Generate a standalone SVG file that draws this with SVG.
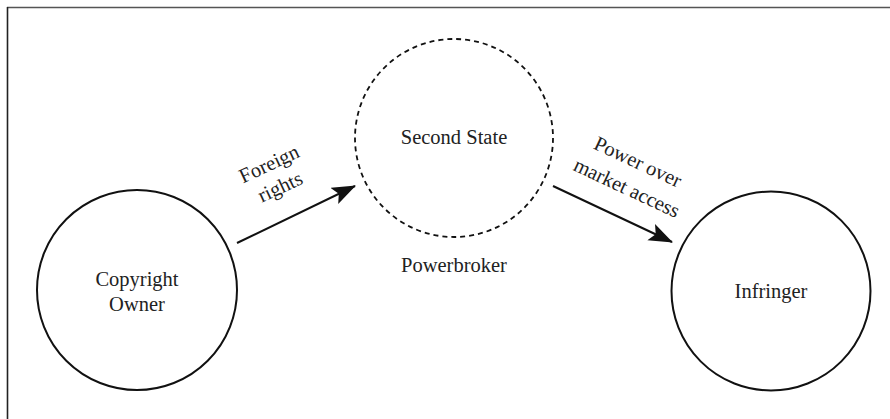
<svg xmlns="http://www.w3.org/2000/svg" width="890" height="419" viewBox="0 0 890 419">
<style>
.node{fill:none;stroke:#111;stroke-width:2}
.dash{stroke-dasharray:5 4;stroke-width:1.8}
.t{font-family:"Liberation Serif","Times New Roman",serif;font-size:20.5px;fill:#222;text-anchor:middle}
.edge{stroke:#111;stroke-width:2;fill:none}
</style>
<defs>
<marker id="ah" markerWidth="26" markerHeight="20" refX="23" refY="9" orient="auto" markerUnits="userSpaceOnUse">
<path d="M0,0 L24,9 L0,18 L5,9 Z" fill="#111"/>
</marker>
</defs>
<rect width="890" height="419" fill="#fff"/>
<g id="frame">
<line x1="7" y1="7.5" x2="890" y2="7.5" stroke="#555" stroke-width="1.6"/>
<line x1="7.5" y1="7" x2="7.5" y2="419" stroke="#222" stroke-width="1.6"/>
</g>
<g id="copyright-owner">
<circle class="node" cx="137" cy="290" r="100"/>
<text class="t" x="137" y="286">Copyright</text>
<text class="t" x="137" y="311">Owner</text>
</g>
<g id="second-state">
<circle class="node dash" cx="454" cy="138" r="99"/>
<text class="t" x="454" y="144">Second State</text>
<text class="t" x="454" y="272">Powerbroker</text>
</g>
<g id="infringer">
<circle class="node" cx="771" cy="291" r="99.5"/>
<text class="t" x="771" y="298">Infringer</text>
</g>
<g id="connectors">
<line class="edge" x1="237" y1="243" x2="355" y2="186" marker-end="url(#ah)"/>
<line class="edge" x1="553" y1="186" x2="672" y2="242" marker-end="url(#ah)"/>
<text class="t" transform="translate(272,170) rotate(-25)">Foreign</text>
<text class="t" transform="translate(283,193) rotate(-25)">rights</text>
<text class="t" transform="translate(635,168) rotate(25)">Power over</text>
<text class="t" transform="translate(624,194) rotate(25)">market access</text>
</g>
</svg>
